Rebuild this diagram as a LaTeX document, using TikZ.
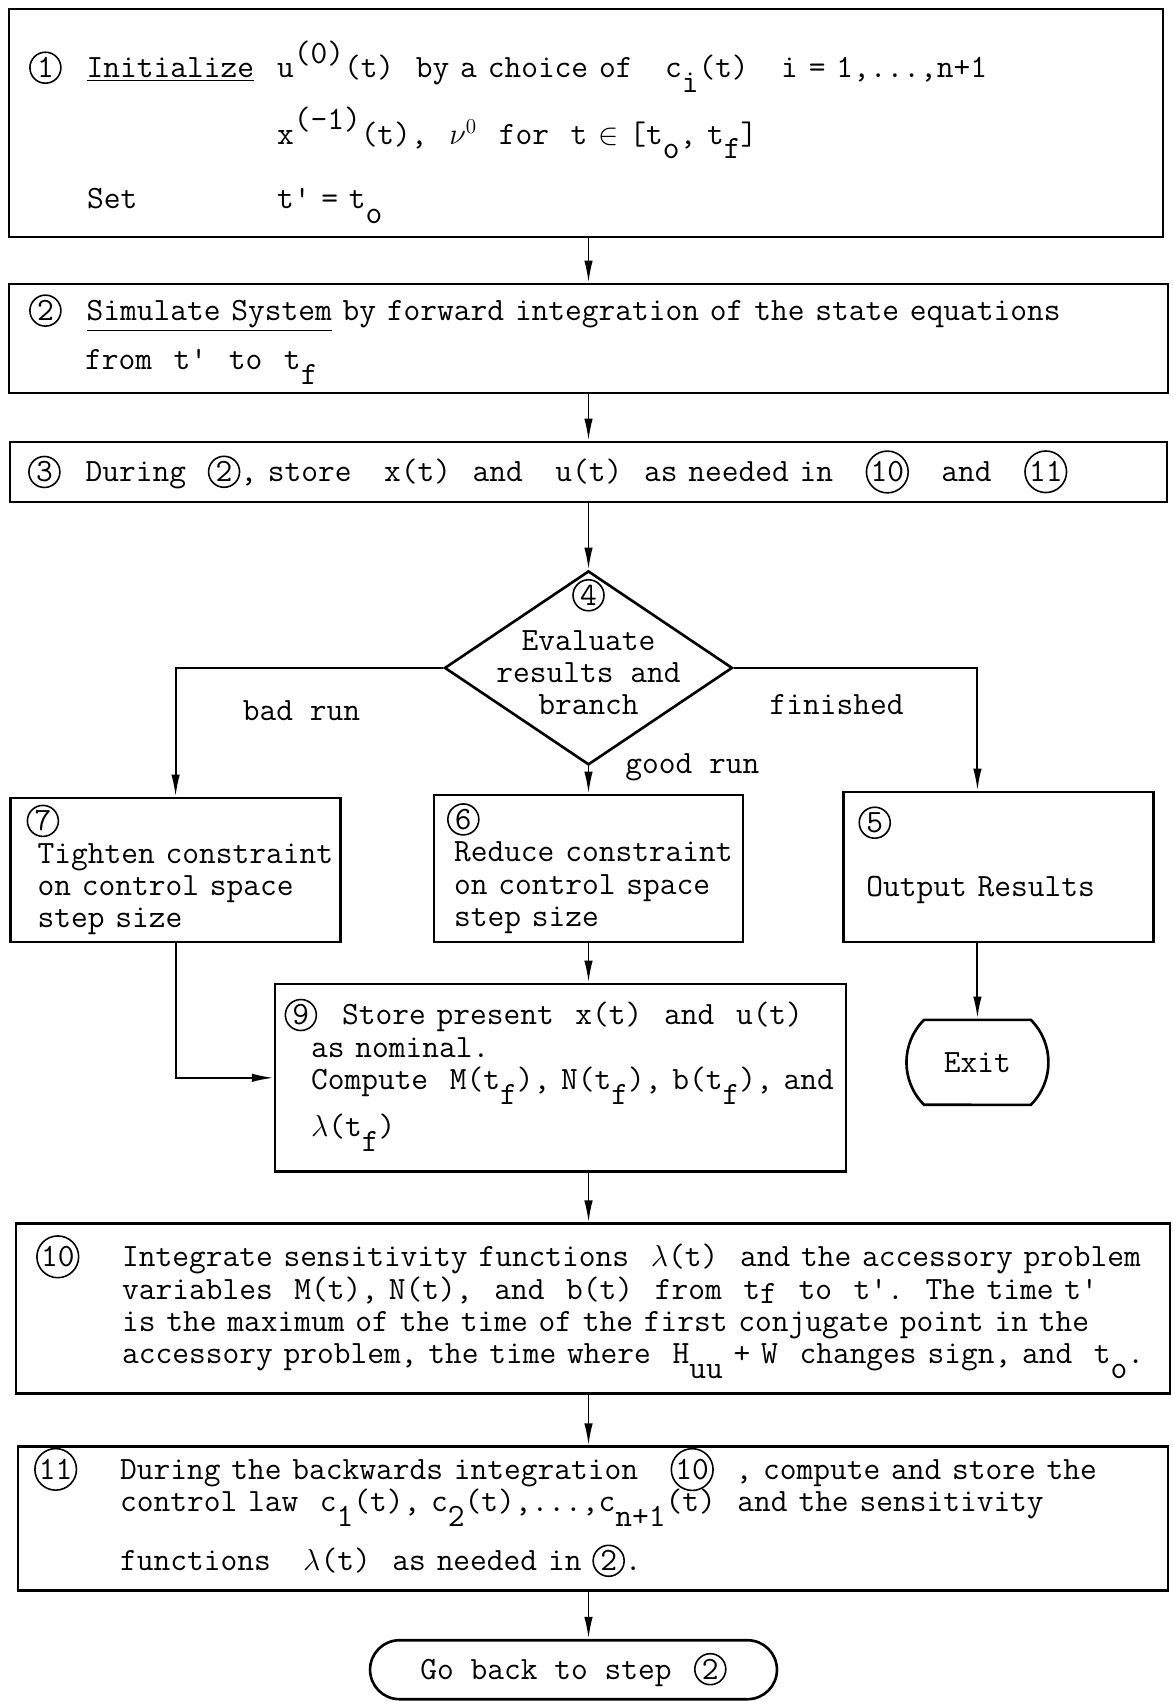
\documentclass[tikz,border=0pt]{standalone}
\usepackage{tikz}
\usetikzlibrary{arrows.meta,positioning,shapes.geometric,shapes.misc}
\setlength{\parindent}{0pt}

\newcommand{\stepno}[1]{\leavevmode\tikz[baseline=(stepnum.base)]\node[draw,circle,line width=0.9pt,inner sep=0.5pt,minimum size=0.62cm] (stepnum) {#1};}
\newcommand{\tsub}[1]{\raisebox{-0.45em}[0pt][0pt]{#1}}
\newcommand{\tsup}[1]{\raisebox{0.45em}[0pt][0pt]{#1}}
\newcommand{\lowstrut}[1]{\rule[-#1]{0pt}{#1}}

\begin{document}
\begin{tikzpicture}[x=0.02cm,y=-0.02cm,on grid,
    every node/.style={font=\ttfamily\fontsize{18.5pt}{18.4pt}\selectfont},
    box/.style={draw,rectangle,line width=1.5pt,inner sep=0pt,align=left},
    decision/.style={draw,diamond,line width=1.5pt,inner sep=0pt,minimum width=5.76cm,minimum height=3.88cm},
    terminal/.style={draw,rounded rectangle,line width=1.5pt,inner sep=0pt},
    flow/.style={line width=1.1pt,-{Latex[length=0.44cm,width=0.17cm]}}]
  \useasboundingbox (0,0) rectangle (1172,1702);

  \node[box,minimum width=23.08cm,minimum height=4.56cm,text width=22.28cm] (init) at (586,123)
    {\begin{tabular}{@{}l@{}l@{}}
     \rule{0pt}{1.0cm}\makebox[4.96cm][l]{\stepno{1}\hspace{0.5cm}\underline{Initialize}} & u\tsup{(0)}(t)~~by a choice of~~~c\tsub{i}(t)~~~i = 1,...,n+1\\[0.64cm]
      & x\tsup{(-1)}(t),~~$\nu^{0}$~~for~~t $\in$ [t\tsub{o}, t\tsub{f}]\\[0.64cm]
     \hspace{1.16cm}Set & t' = t\tsub{o}
     \end{tabular}};
  \node[box,minimum width=23.18cm,minimum height=2.18cm,text width=22.38cm] (sim) [below right=4.31cm and 0.05cm of init]
    {\stepno{2}\hspace{0.5cm}\underline{Simulate System} by forward integration of the state equations\\[0.33cm]
     \hspace*{1.12cm}from~~t'~~to~~t\tsub{f}\lowstrut{0.26cm}};
  \node[box,minimum width=23.14cm,minimum height=1.2cm,text width=22.42cm] (store) [below=2.67cm of sim]
    {\stepno{3}\hspace{0.5cm}During~~\stepno{2}, store~~~x(t)~~and~~~u(t)~~as needed in~~~\stepno{10}~~~and~~~\stepno{11}};

  \node[decision] (dia) [below=3.92cm of store]
    {\smash{\raisebox{0.17cm}{\begin{tabular}{@{}c@{}}\stepno{4}\\[0.25cm]Evaluate\\results and\\branch\end{tabular}}}};

  \node[box,minimum width=6.6cm,minimum height=2.88cm,text width=6.4cm] (tighten) [below left=4.04cm and 8.26cm of dia]
    {\hspace*{0.22cm}\stepno{7}\\\hspace*{0.44cm}Tighten constraint\\\hspace*{0.44cm}on control space\\\hspace*{0.44cm}step size};
  \node[box,minimum width=6.18cm,minimum height=2.94cm,text width=5.9cm] (reduce) [below=4.01cm of dia]
    {\hspace*{0.12cm}\stepno{6}\\\hspace*{0.26cm}Reduce constraint\\\hspace*{0.26cm}on control space\\\hspace*{0.26cm}step size};
  \node[box,minimum width=6.2cm,minimum height=3cm,text width=5.28cm] (output) [below right=3.98cm and 8.2cm of dia]
    {\hspace*{-0.16cm}\stepno{5}\\[0.64cm]Output Results\lowstrut{0.61cm}};

  \node[box,minimum width=11.42cm,minimum height=3.76cm,text width=11.36cm] (nominal) [below left=4.19cm and 0.56cm of reduce]
    {\hspace*{0.16cm}\stepno{9}\hspace{0.5cm}Store present~~x(t)~~and~~u(t)\\
     \hspace*{0.69cm}as nominal.\\
     \hspace*{0.69cm}Compute~~M(t\tsub{f}), N(t\tsub{f}), b(t\tsub{f}), and\\[0.3cm]
     \hspace*{0.69cm}$\lambda$(t\tsub{f})\lowstrut{0.4cm}};
  \node[terminal,minimum width=2.84cm,minimum height=1.7cm,rounded rectangle arc length=90] (exit) [below left=3.91cm and 0.42cm of output] {Exit};

  \node[box,minimum width=23.08cm,minimum height=3.4cm,text width=22.28cm] (sens) [below right=4.62cm and 0.65cm of nominal]
    {\begin{tabular}{@{}l@{}l@{}}
     \makebox[1.72cm][l]{\smash{\stepno{10}}} & Integrate sensitivity functions~~$\lambda$(t)~~and the accessory problem\\
      & variables~~M(t), N(t),~~and~~b(t)~~from~~t\raisebox{-0.15em}[0pt][0pt]{f}~~to~~t'.~~The time t'\\
      & is the maximum of the time of the first conjugate point in the\\
      & accessory problem, the time where~~H\tsub{uu} + W~~changes sign, and~~t\tsub{o}.
     \end{tabular}};
  \node[box,minimum width=23cm,minimum height=2.88cm,text width=22.36cm] (back) [below=4.2cm of sens]
    {\begin{tabular}{@{}l@{}l@{}}
     \makebox[1.72cm][l]{\smash{\stepno{11}}} & During the backwards integration~~~\smash{\stepno{10}}~~, compute and store the\\
      & control law~~c\tsub{1}(t), c\tsub{2}(t),...,c\tsub{n+1}(t)~~and the sensitivity\\[0.46cm]
      & functions~~~$\lambda$(t)~~as needed in~\stepno{2}.
     \end{tabular}};
  \node[terminal,minimum width=8.14cm,minimum height=1.18cm] (goback) [below left=3.02cm and 0.39cm of back] {Go back to step\hspace{0.45cm}\stepno{2}};

  \draw[flow] (init.south -| dia) -- (sim.north -| dia);
  \draw[flow] (sim.south -| dia) -- (store.north -| dia);
  \draw[flow] (store.south -| dia) -- (dia.north);
  \draw[flow] (dia.west) -| node[pos=0.25,xshift=-0.16cm,yshift=-0.86cm] {bad run} (tighten.north);
  \draw[flow] (dia.east) -| node[pos=0.25,xshift=-0.38cm,yshift=-0.74cm] {finished} (output.north -| exit);
  \draw[flow] (dia.south) -- node[pos=0.05,right=0.6cm] {good run} (reduce.north);
  \draw[flow] (tighten.south) |- (nominal.west);
  \draw[flow] (reduce.south) -- (nominal.north -| reduce);
  \draw[flow] (output.south -| exit) -- (exit.north);
  \draw[flow] (nominal.south -| dia) -- (sens.north -| dia);
  \draw[flow] (sens.south -| dia) -- (back.north -| dia);
  \draw[flow] (back.south -| dia) -- (goback.north -| dia);
\end{tikzpicture}
\end{document}
